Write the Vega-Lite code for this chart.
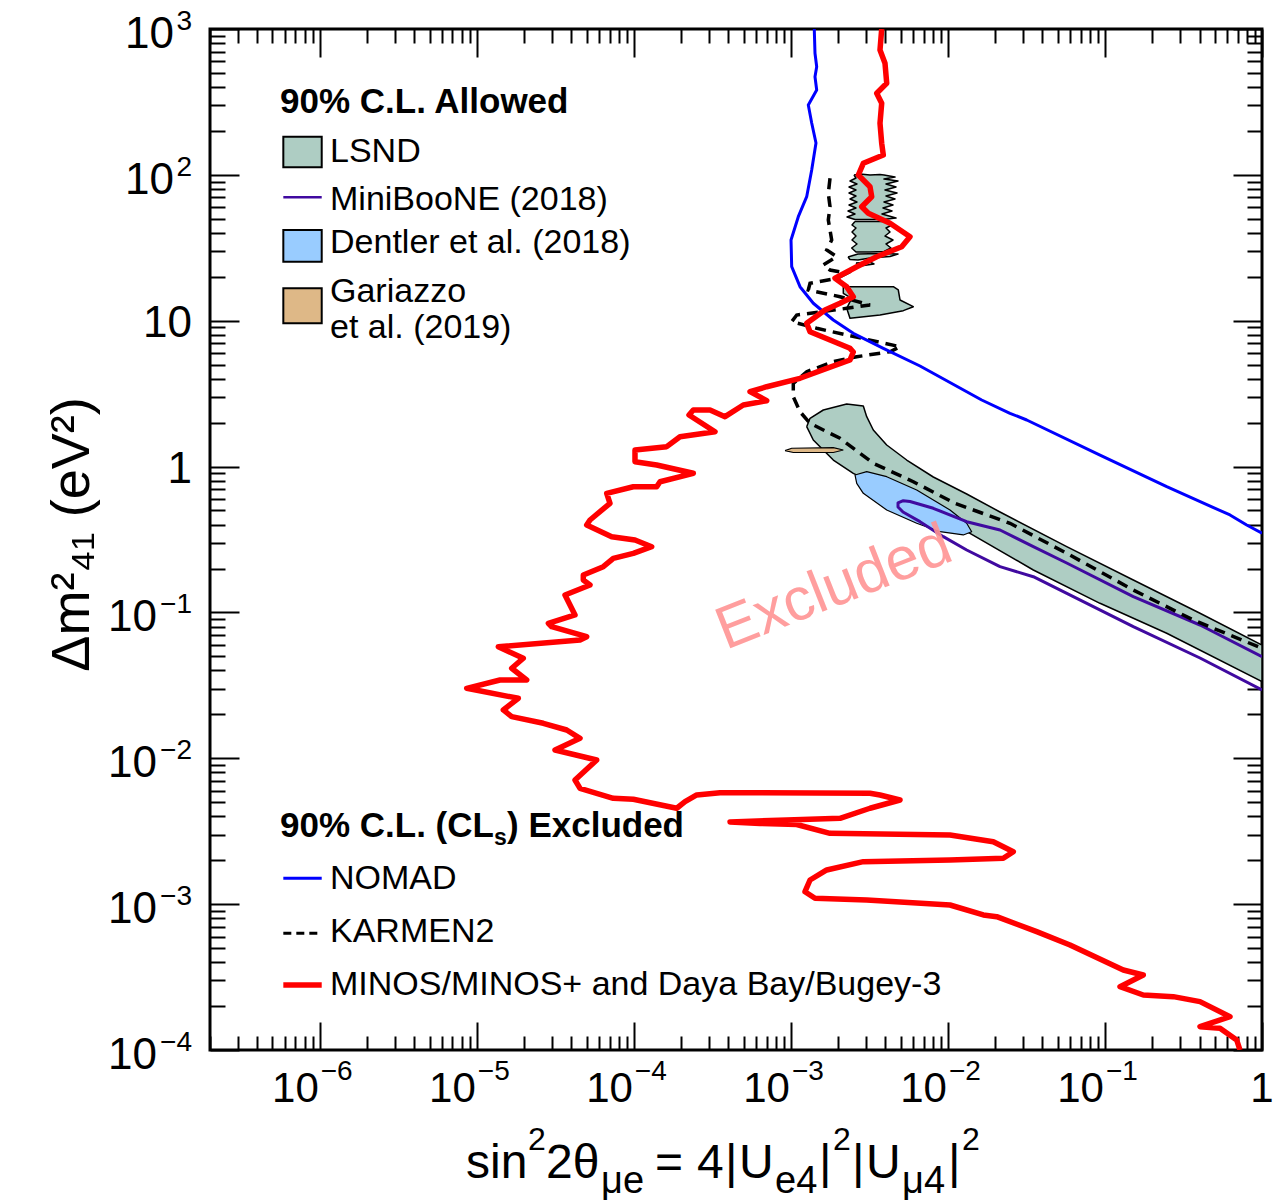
{
"$schema": "https://vega.github.io/schema/vega-lite/v6.json",
"width": 1052, "height": 1021,
"autosize": {"type": "none"},
"padding": {"left": 210, "top": 29, "right": 22, "bottom": 151},
"background": "white",
"config": {"view": {"stroke": "black", "strokeWidth": 3}, "font": "Liberation Sans", "text": {"font": "Liberation Sans", "color": "black"}},
"datasets": {
"nomad": [{"i":0,"x":1.409e-3,"y":1000},{"i":1,"x":1.424e-3,"y":681.4},{"i":2,"x":1.460e-3,"y":551.3},{"i":3,"x":1.424e-3,"y":471.0},{"i":4,"x":1.460e-3,"y":381.8},{"i":5,"x":1.291e-3,"y":301.3},{"i":6,"x":1.357e-3,"y":226.7},{"i":7,"x":1.445e-3,"y":165.4},{"i":8,"x":1.357e-3,"y":108.0},{"i":9,"x":1.261e-3,"y":70.83},{"i":10,"x":1.115e-3,"y":51.67},{"i":11,"x":1.002e-3,"y":35.76},{"i":12,"x":1.012e-3,"y":23.46},{"i":13,"x":1.143e-3,"y":17.11},{"i":14,"x":1.389e-3,"y":13.17},{"i":15,"x":1.863e-3,"y":10.11},{"i":16,"x":2.497e-3,"y":8.197},{"i":17,"x":3.878e-3,"y":6.470},{"i":18,"x":6.641e-3,"y":4.893},{"i":19,"x":1.641e-2,"y":2.860},{"i":20,"x":2.485e-2,"y":2.319},{"i":21,"x":3.175e-2,"y":2.086},{"i":22,"x":9.299e-2,"y":1.200},{"i":23,"x":0.2473,"y":0.7277},{"i":24,"x":0.6254,"y":0.4656},{"i":25,"x":0.7991,"y":0.3978},{"i":26,"x":1,"y":0.3487}],
"red": [{"i":0,"x":3.787e-3,"y":1000},{"i":1,"x":3.694e-3,"y":717.8},{"i":2,"x":3.975e-3,"y":581.9},{"i":3,"x":4.076e-3,"y":424.3},{"i":4,"x":3.520e-3,"y":362.4},{"i":5,"x":3.787e-3,"y":309.4},{"i":6,"x":3.694e-3,"y":225.7},{"i":7,"x":3.787e-3,"y":164.6},{"i":8,"x":3.878e-3,"y":136.8},{"i":9,"x":2.892e-3,"y":120.0},{"i":10,"x":2.688e-3,"y":99.77},{"i":11,"x":3.190e-3,"y":82.96},{"i":12,"x":3.271e-3,"y":70.83},{"i":13,"x":2.825e-3,"y":60.48},{"i":14,"x":3.112e-3,"y":54.50},{"i":15,"x":4.278e-3,"y":46.55},{"i":16,"x":5.735e-3,"y":37.67},{"i":17,"x":5.078e-3,"y":32.18},{"i":18,"x":3.520e-3,"y":27.47},{"i":19,"x":2.626e-3,"y":23.46},{"i":20,"x":1.910e-3,"y":19.54},{"i":21,"x":2.267e-3,"y":17.11},{"i":22,"x":2.497e-3,"y":14.61},{"i":23,"x":2.055e-3,"y":13.17},{"i":24,"x":1.649e-3,"y":11.84},{"i":25,"x":1.261e-3,"y":9.601},{"i":26,"x":1.324e-3,"y":8.407},{"i":27,"x":1.775e-3,"y":7.376},{"i":28,"x":2.379e-3,"y":6.470},{"i":29,"x":2.497e-3,"y":6.104},{"i":30,"x":2.379e-3,"y":5.379},{"i":31,"x":1.691e-3,"y":4.719},{"i":32,"x":1.143e-3,"y":4.029},{"i":33,"x":7.015e-4,"y":3.528},{"i":34,"x":5.491e-4,"y":3.262},{"i":35,"x":7.015e-4,"y":2.829},{"i":36,"x":4.977e-4,"y":2.644},{"i":37,"x":3.806e-4,"y":2.198},{"i":38,"x":3.055e-4,"y":2.443},{"i":39,"x":2.391e-4,"y":2.443},{"i":40,"x":2.245e-4,"y":2.258},{"i":41,"x":3.287e-4,"y":1.734},{"i":42,"x":1.967e-4,"y":1.603},{"i":43,"x":1.619e-4,"y":1.369},{"i":44,"x":1.017e-4,"y":1.299},{"i":45,"x":1.017e-4,"y":1.080},{"i":46,"x":1.398e-4,"y":1.025},{"i":47,"x":2.391e-4,"y":0.8993},{"i":48,"x":1.468e-4,"y":0.7873},{"i":49,"x":1.398e-4,"y":0.7277},{"i":50,"x":9.922e-5,"y":0.7277},{"i":51,"x":6.718e-5,"y":0.6558},{"i":52,"x":7.050e-5,"y":0.5601},{"i":53,"x":5.258e-5,"y":0.4303},{"i":54,"x":5.009e-5,"y":0.3978},{"i":55,"x":7.228e-5,"y":0.3307},{"i":56,"x":1.017e-4,"y":0.3138},{"i":57,"x":1.299e-4,"y":0.2823},{"i":58,"x":9.922e-5,"y":0.2543},{"i":59,"x":7.399e-5,"y":0.2350},{"i":60,"x":6.390e-5,"y":0.2059},{"i":61,"x":4.767e-5,"y":0.1806},{"i":62,"x":4.767e-5,"y":0.1669},{"i":63,"x":5.258e-5,"y":0.1542},{"i":64,"x":3.644e-5,"y":0.1317},{"i":65,"x":4.220e-5,"y":0.09603},{"i":66,"x":2.853e-5,"y":0.08423},{"i":67,"x":2.999e-5,"y":0.07982},{"i":68,"x":5.009e-5,"y":0.06818},{"i":69,"x":4.542e-5,"y":0.06471},{"i":70,"x":1.370e-5,"y":0.05822},{"i":71,"x":1.977e-5,"y":0.04848},{"i":72,"x":1.668e-5,"y":0.04140},{"i":73,"x":2.078e-5,"y":0.03442},{"i":74,"x":1.405e-5,"y":0.03442},{"i":75,"x":8.624e-6,"y":0.03019},{"i":76,"x":1.838e-5,"y":0.02578},{"i":77,"x":1.475e-5,"y":0.02144},{"i":78,"x":1.668e-5,"y":0.01929},{"i":79,"x":2.652e-5,"y":0.01738},{"i":80,"x":3.737e-5,"y":0.01563},{"i":81,"x":4.542e-5,"y":0.01371},{"i":82,"x":3.148e-5,"y":0.01140},{"i":83,"x":5.801e-5,"y":0.009734},{"i":84,"x":4.220e-5,"y":0.007098},{"i":85,"x":4.542e-5,"y":0.006226},{"i":86,"x":7.399e-5,"y":0.005316},{"i":87,"x":9.922e-5,"y":0.005233},{"i":88,"x":1.875e-4,"y":0.004543},{"i":89,"x":2.118e-4,"y":0.005039},{"i":90,"x":2.514e-4,"y":0.005603},{"i":91,"x":3.538e-4,"y":0.005809},{"i":92,"x":3.190e-3,"y":0.005754},{"i":93,"x":3.694e-3,"y":0.005603},{"i":94,"x":4.953e-3,"y":0.005177},{"i":95,"x":3.190e-3,"y":0.004543},{"i":96,"x":2.055e-3,"y":0.003879},{"i":97,"x":9.406e-4,"y":0.003776},{"i":98,"x":4.096e-4,"y":0.003659},{"i":99,"x":6.359e-4,"y":0.003573},{"i":100,"x":1.089e-3,"y":0.003517},{"i":101,"x":1.775e-3,"y":0.003060},{"i":102,"x":1.031e-2,"y":0.002979},{"i":103,"x":1.945e-2,"y":0.002680},{"i":104,"x":2.608e-2,"y":0.002289},{"i":105,"x":2.252e-2,"y":0.002063},{"i":106,"x":1.031e-2,"y":0.002008},{"i":107,"x":2.892e-3,"y":0.001955},{"i":108,"x":1.691e-3,"y":0.001715},{"i":109,"x":1.324e-3,"y":0.001464},{"i":110,"x":1.230e-3,"y":0.001217},{"i":111,"x":1.424e-3,"y":0.001097},{"i":112,"x":3.040e-3,"y":0.001068},{"i":113,"x":1.031e-2,"y":0.0009867},{"i":114,"x":1.680e-2,"y":0.0008427},{"i":115,"x":2.045e-2,"y":0.0008204},{"i":116,"x":3.675e-2,"y":0.0006474},{"i":117,"x":5.990e-2,"y":0.0005248},{"i":118,"x":0.1308,"y":0.0003537},{"i":119,"x":0.1754,"y":0.0003267},{"i":120,"x":0.1247,"y":0.0002717},{"i":121,"x":0.1754,"y":0.0002384},{"i":122,"x":0.2724,"y":0.0002321},{"i":123,"x":0.4029,"y":0.0002145},{"i":124,"x":0.6254,"y":0.0001692},{"i":125,"x":0.4029,"y":0.0001445},{"i":126,"x":0.5402,"y":0.0001409},{"i":127,"x":0.6901,"y":0.0001171},{"i":128,"x":0.7242,"y":0.0001}],
"karmen": [{"i":0,"x":1.775e-3,"y":94.71},{"i":1,"x":1.731e-3,"y":74.75},{"i":2,"x":1.775e-3,"y":60.48},{"i":3,"x":1.731e-3,"y":49.03},{"i":4,"x":1.819e-3,"y":35.76},{"i":5,"x":1.691e-3,"y":30.53},{"i":6,"x":1.958e-3,"y":27.47},{"i":7,"x":1.609e-3,"y":24.10},{"i":8,"x":1.775e-3,"y":22.27},{"i":9,"x":2.267e-3,"y":21.14},{"i":10,"x":1.958e-3,"y":19.54},{"i":11,"x":1.324e-3,"y":18.05},{"i":12,"x":1.291e-3,"y":16.24},{"i":13,"x":2.055e-3,"y":14.61},{"i":14,"x":3.190e-3,"y":12.82},{"i":15,"x":2.267e-3,"y":12.16},{"i":16,"x":1.089e-3,"y":10.94},{"i":17,"x":1.012e-3,"y":9.847},{"i":18,"x":1.460e-3,"y":8.872},{"i":19,"x":2.267e-3,"y":7.981},{"i":20,"x":4.953e-3,"y":6.636},{"i":21,"x":4.278e-3,"y":6.132},{"i":22,"x":2.626e-3,"y":5.665},{"i":23,"x":1.863e-3,"y":5.236},{"i":24,"x":1.261e-3,"y":4.472},{"i":25,"x":1.036e-3,"y":3.723},{"i":26,"x":1.036e-3,"y":3.014},{"i":27,"x":1.143e-3,"y":2.378},{"i":28,"x":1.324e-3,"y":1.980},{"i":29,"x":2.055e-3,"y":1.563},{"i":30,"x":3.348e-3,"y":1.053},{"i":31,"x":6.019e-3,"y":0.7873},{"i":32,"x":1.109e-2,"y":0.5601},{"i":33,"x":2.485e-2,"y":0.4085},{"i":34,"x":5.707e-2,"y":0.2543},{"i":35,"x":0.1515,"y":0.1425},{"i":36,"x":0.3651,"y":0.08875},{"i":37,"x":1,"y":0.05677}],
"mini": [{"i":0,"x":1,"y":0.04973},{"i":1,"x":0.4029,"y":0.08200},{"i":2,"x":0.1515,"y":0.1282},{"i":3,"x":5.707e-2,"y":0.2183},{"i":4,"x":3.498e-2,"y":0.2823},{"i":5,"x":2.146e-2,"y":0.3674},{"i":6,"x":1.317e-2,"y":0.4190},{"i":7,"x":8.070e-3,"y":0.5176},{"i":8,"x":5.735e-3,"y":0.5763},{"i":9,"x":5.199e-3,"y":0.5836},{"i":10,"x":4.810e-3,"y":0.5629},{"i":11,"x":4.810e-3,"y":0.5284},{"i":12,"x":5.176e-3,"y":0.4882},{"i":13,"x":6.641e-3,"y":0.4190},{"i":14,"x":9.346e-3,"y":0.3307},{"i":15,"x":1.317e-2,"y":0.2680},{"i":16,"x":2.146e-2,"y":0.2059},{"i":17,"x":3.498e-2,"y":0.1758},{"i":18,"x":0.1515,"y":0.07982},{"i":19,"x":0.4029,"y":0.04871},{"i":20,"x":1,"y":0.02939}],
"lsnd": [
{"p":0,"i":0,"x":1.261e-3,"y":1.877},{"p":0,"i":1,"x":1.324e-3,"y":2.143},{"p":0,"i":2,"x":1.609e-3,"y":2.443},{"p":0,"i":3,"x":2.267e-3,"y":2.685},{"p":0,"i":4,"x":2.892e-3,"y":2.602},{"p":0,"i":5,"x":3.040e-3,"y":2.198},{"p":0,"i":6,"x":3.348e-3,"y":1.781},{"p":0,"i":7,"x":4.076e-3,"y":1.406},{"p":0,"i":8,"x":5.464e-3,"y":1.109},{"p":0,"i":9,"x":8.070e-3,"y":0.8483},{"p":0,"i":10,"x":1.317e-2,"y":0.6486},{"p":0,"i":11,"x":2.146e-2,"y":0.4882},{"p":0,"i":12,"x":5.707e-2,"y":0.2823},{"p":0,"i":13,"x":0.1515,"y":0.1669},{"p":0,"i":14,"x":0.4029,"y":0.09865},{"p":0,"i":15,"x":1,"y":0.05981},{"p":0,"i":16,"x":1,"y":0.03351},{"p":0,"i":17,"x":0.2473,"y":0.07194},{"p":0,"i":18,"x":9.299e-2,"y":0.1155},{"p":0,"i":19,"x":3.498e-2,"y":0.1954},{"p":0,"i":20,"x":1.382e-2,"y":0.3487},{"p":0,"i":21,"x":5.735e-3,"y":0.5718},{"p":0,"i":22,"x":2.497e-3,"y":0.8993},{"p":0,"i":23,"x":1.863e-3,"y":1.109},{"p":0,"i":24,"x":1.389e-3,"y":1.521},{"p":0,"i":25,"x":1.261e-3,"y":1.877},
{"p":1,"i":0,"x":2.522e-3,"y":99.77},{"p":1,"i":1,"x":2.755e-3,"y":101.4},{"p":1,"i":2,"x":3.190e-3,"y":99.77},{"p":1,"i":3,"x":3.694e-3,"y":100.6},{"p":1,"i":4,"x":3.917e-3,"y":99.77},{"p":1,"i":5,"x":4.603e-3,"y":96.67},{"p":1,"i":6,"x":3.917e-3,"y":93.67},{"p":1,"i":7,"x":4.810e-3,"y":90.77},{"p":1,"i":8,"x":4.034e-3,"y":86.56},{"p":1,"i":9,"x":4.671e-3,"y":82.57},{"p":1,"i":10,"x":3.975e-3,"y":78.74},{"p":1,"i":11,"x":4.741e-3,"y":75.09},{"p":1,"i":12,"x":4.034e-3,"y":71.63},{"p":1,"i":13,"x":4.603e-3,"y":68.31},{"p":1,"i":14,"x":3.917e-3,"y":65.15},{"p":1,"i":15,"x":4.470e-3,"y":62.14},{"p":1,"i":16,"x":3.860e-3,"y":59.26},{"p":1,"i":17,"x":4.405e-3,"y":56.52},{"p":1,"i":18,"x":3.803e-3,"y":53.90},{"p":1,"i":19,"x":4.671e-3,"y":50.60},{"p":1,"i":20,"x":3.860e-3,"y":49.43},{"p":1,"i":21,"x":3.190e-3,"y":49.43},{"p":1,"i":22,"x":2.560e-3,"y":49.43},{"p":1,"i":23,"x":2.277e-3,"y":51.41},{"p":1,"i":24,"x":2.560e-3,"y":53.90},{"p":1,"i":25,"x":2.311e-3,"y":56.52},{"p":1,"i":26,"x":2.598e-3,"y":59.26},{"p":1,"i":27,"x":2.345e-3,"y":62.14},{"p":1,"i":28,"x":2.636e-3,"y":65.15},{"p":1,"i":29,"x":2.379e-3,"y":68.31},{"p":1,"i":30,"x":2.598e-3,"y":71.63},{"p":1,"i":31,"x":2.345e-3,"y":75.09},{"p":1,"i":32,"x":2.598e-3,"y":78.74},{"p":1,"i":33,"x":2.345e-3,"y":82.57},{"p":1,"i":34,"x":2.636e-3,"y":86.56},{"p":1,"i":35,"x":2.379e-3,"y":90.77},{"p":1,"i":36,"x":2.598e-3,"y":95.17},{"p":1,"i":37,"x":2.522e-3,"y":99.77},
{"p":2,"i":0,"x":2.560e-3,"y":47.88},{"p":2,"i":1,"x":3.975e-3,"y":47.88},{"p":2,"i":2,"x":4.405e-3,"y":45.32},{"p":2,"i":3,"x":4.034e-3,"y":43.22},{"p":2,"i":4,"x":4.278e-3,"y":40.58},{"p":2,"i":5,"x":3.975e-3,"y":38.10},{"p":2,"i":6,"x":4.470e-3,"y":35.76},{"p":2,"i":7,"x":4.034e-3,"y":33.57},{"p":2,"i":8,"x":4.340e-3,"y":31.52},{"p":2,"i":9,"x":3.917e-3,"y":29.83},{"p":2,"i":10,"x":3.190e-3,"y":29.59},{"p":2,"i":11,"x":2.598e-3,"y":29.59},{"p":2,"i":12,"x":2.439e-3,"y":31.52},{"p":2,"i":13,"x":2.636e-3,"y":33.57},{"p":2,"i":14,"x":2.450e-3,"y":35.76},{"p":2,"i":15,"x":2.598e-3,"y":38.10},{"p":2,"i":16,"x":2.450e-3,"y":40.58},{"p":2,"i":17,"x":2.598e-3,"y":43.22},{"p":2,"i":18,"x":2.450e-3,"y":45.32},{"p":2,"i":19,"x":2.560e-3,"y":47.88},
{"p":3,"i":0,"x":2.311e-3,"y":27.35},{"p":3,"i":1,"x":2.675e-3,"y":28.67},{"p":3,"i":2,"x":3.694e-3,"y":28.89},{"p":3,"i":3,"x":4.810e-3,"y":28.67},{"p":3,"i":4,"x":4.278e-3,"y":27.56},{"p":3,"i":5,"x":3.190e-3,"y":26.92},{"p":3,"i":6,"x":2.675e-3,"y":26.08},{"p":3,"i":7,"x":2.379e-3,"y":26.29},{"p":3,"i":8,"x":2.311e-3,"y":27.35},
{"p":4,"i":0,"x":2.598e-3,"y":24.87},{"p":4,"i":1,"x":3.190e-3,"y":25.27},{"p":4,"i":2,"x":3.383e-3,"y":24.48},{"p":4,"i":3,"x":2.755e-3,"y":23.73},{"p":4,"i":4,"x":2.598e-3,"y":24.87},
{"p":5,"i":0,"x":2.157e-3,"y":17.11},{"p":5,"i":1,"x":4.49e-3,"y":17.11},{"p":5,"i":2,"x":4.83e-3,"y":16.24},{"p":5,"i":3,"x":4.953e-3,"y":13.87},{"p":5,"i":4,"x":6.019e-3,"y":12.48},{"p":5,"i":5,"x":5.199e-3,"y":11.72},{"p":5,"i":6,"x":3.694e-3,"y":10.94},{"p":5,"i":7,"x":2.379e-3,"y":10.39},{"p":5,"i":8,"x":2.267e-3,"y":12.16},{"p":5,"i":9,"x":2.439e-3,"y":14.24},{"p":5,"i":10,"x":2.157e-3,"y":15.42},{"p":5,"i":11,"x":2.157e-3,"y":17.11}],
"dentler": [{"i":0,"x":2.560e-3,"y":0.8756},{"i":1,"x":3.040e-3,"y":0.9224},{"i":2,"x":4.076e-3,"y":0.8523},{"i":3,"x":6.327e-3,"y":0.6909},{"i":4,"x":1.031e-2,"y":0.5039},{"i":5,"x":1.317e-2,"y":0.4085},{"i":6,"x":1.417e-2,"y":0.3577},{"i":7,"x":1.253e-2,"y":0.3397},{"i":8,"x":8.905e-3,"y":0.3577},{"i":9,"x":6.327e-3,"y":0.4085},{"i":10,"x":4.076e-3,"y":0.5039},{"i":11,"x":2.892e-3,"y":0.6558},{"i":12,"x":2.626e-3,"y":0.7678},{"i":13,"x":2.560e-3,"y":0.8756}],
"gariazzo": [{"i":0,"x":9.176e-4,"y":1.285},{"i":1,"x":1.012e-3,"y":1.335},{"i":2,"x":1.863e-3,"y":1.347},{"i":3,"x":2.157e-3,"y":1.299},{"i":4,"x":1.863e-3,"y":1.249},{"i":5,"x":1.036e-3,"y":1.249},{"i":6,"x":9.176e-4,"y":1.285}],
"legRects": [{"k":"LSND","x":5.860e-7,"x2":1.029e-6,"y":182.6,"y2":112.7},{"k":"Dentler","x":5.860e-7,"x2":1.029e-6,"y":41.88,"y2":25.39},{"k":"Gariazzo","x":5.860e-7,"x2":1.029e-6,"y":16.69,"y2":9.601}],
"legText": [{"t":"LSND","x":1.162e-6,"y":123.1},{"t":"MiniBooNE (2018)","x":1.162e-6,"y":57.42},{"t":"Dentler et al. (2018)","x":1.162e-6,"y":28.99},{"t":"Gariazzo","x":1.162e-6,"y":13.50},{"t":"et al. (2019)","x":1.162e-6,"y":7.576},{"t":"NOMAD","x":1.162e-6,"y":1.264e-3},{"t":"KARMEN2","x":1.162e-6,"y":5.528e-4},{"t":"MINOS/MINOS+ and Daya Bay/Bugey-3","x":1.162e-6,"y":2.384e-4}],
"legHead": [{"t":"90% C.L. Allowed","x":5.581e-7,"y":264.2},{"t":"90% C.L. (CL","x":5.581e-7,"y":2.901e-3},{"t":") Excluded","x":1.557e-5,"y":2.901e-3}],
"legSub": [{"t":"s","x":1.287e-5,"y":2.543e-3}],
"xlab": [{"x":1e-6,"y":0.0001,"e":"−6"},{"x":1e-5,"y":0.0001,"e":"−5"},{"x":1e-4,"y":0.0001,"e":"−4"},{"x":0.001,"y":0.0001,"e":"−3"},{"x":0.01,"y":0.0001,"e":"−2"},{"x":0.1,"y":0.0001,"e":"−1"}],
"xlabOne": [{"x":1,"y":0.0001,"t":"1"}],
"ylabP": [{"x":2e-7,"y":1000,"e":"3"},{"x":2e-7,"y":100,"e":"2"}],
"ylabN": [{"x":2e-7,"y":0.1,"e":"−1"},{"x":2e-7,"y":0.01,"e":"−2"},{"x":2e-7,"y":0.001,"e":"−3"},{"x":2e-7,"y":0.0001,"e":"−4"}],
"ylabPlain": [{"x":2e-7,"y":10,"t":"10"},{"x":2e-7,"y":1,"t":"1"}],
"xtMain": [{"x":8.535e-6,"y":0.0001,"t":"sin"},{"x":2.758e-5,"y":0.0001,"t":"2θ"},{"x":1.364e-4,"y":0.0001,"t":"="},{"x":2.525e-4,"y":0.0001,"t":"4"},{"x":3.806e-4,"y":0.0001,"t":"|"},{"x":4.673e-4,"y":0.0001,"t":"U"},{"x":1.511e-3,"y":0.0001,"t":"|"},{"x":2.450e-3,"y":0.0001,"t":"|"},{"x":3.009e-3,"y":0.0001,"t":"U"},{"x":1.001e-2,"y":0.0001,"t":"|"}],
"xtSup": [{"x":2.118e-5,"y":0.0001,"t":"2"},{"x":1.855e-3,"y":0.0001,"t":"2"},{"x":1.229e-2,"y":0.0001,"t":"2"}],
"xtSub": [{"x":6.179e-5,"y":0.0001,"t":"μe"},{"x":7.922e-4,"y":0.0001,"t":"e4"},{"x":5.100e-3,"y":0.0001,"t":"μ4"}],
"excl": [{"t":"Excluded","x":1.882e-3,"y":0.1471}]
},
"encoding": {
"x": {"field": "x", "type": "quantitative", "scale": {"type": "log", "domain": [2e-7, 1], "nice": false}, "axis": null},
"y": {"field": "y", "type": "quantitative", "scale": {"type": "log", "domain": [0.0001, 1000], "nice": false}, "axis": null}
},
"resolve": {"axis": {"x": "independent", "y": "independent"}},
"layer": [
{"data": {"name": "lsnd"}, "mark": {"type": "line", "fill": "#aecdc3", "stroke": "black", "strokeWidth": 1.5, "strokeJoin": "round", "clip": true}, "encoding": {"detail": {"field": "p"}, "order": {"field": "i"}}},
{"data": {"name": "dentler"}, "mark": {"type": "line", "fill": "#99ccff", "stroke": "black", "strokeWidth": 1.2, "strokeJoin": "round", "clip": true}, "encoding": {"order": {"field": "i"}}},
{"data": {"name": "gariazzo"}, "mark": {"type": "line", "fill": "#deb887", "stroke": "black", "strokeWidth": 1.2, "clip": true}, "encoding": {"order": {"field": "i"}}},
{"data": {"name": "mini"}, "mark": {"type": "line", "stroke": "#400aa0", "strokeWidth": 3, "strokeJoin": "round", "clip": true}, "encoding": {"order": {"field": "i"}}},
{"data": {"name": "karmen"}, "mark": {"type": "line", "stroke": "black", "strokeWidth": 3.5, "strokeDash": [11, 7], "clip": true}, "encoding": {"order": {"field": "i"}}},
{"data": {"name": "nomad"}, "mark": {"type": "line", "stroke": "#0000ff", "strokeWidth": 3, "strokeJoin": "round", "clip": true},
 "encoding": {
  "x": {"field": "x", "type": "quantitative", "scale": {"type": "log", "domain": [2e-7, 1], "nice": false},
        "axis": {"orient": "bottom", "values": [2e-7,3e-7,4e-7,5e-7,6e-7,7e-7,8e-7,9e-7,1e-6,2e-6,3e-6,4e-6,5e-6,6e-6,7e-6,8e-6,9e-6,1e-5,2e-5,3e-5,4e-5,5e-5,6e-5,7e-5,8e-5,9e-5,1e-4,2e-4,3e-4,4e-4,5e-4,6e-4,7e-4,8e-4,9e-4,0.001,0.002,0.003,0.004,0.005,0.006,0.007,0.008,0.009,0.01,0.02,0.03,0.04,0.05,0.06,0.07,0.08,0.09,0.1,0.2,0.3,0.4,0.5,0.6,0.7,0.8,0.9,1],
                 "labels": false, "domain": false, "grid": false, "ticks": true, "tickColor": "black", "tickWidth": 2,
                 "tickSize": {"condition": {"test": "abs(log(datum.value)/LN10 - round(log(datum.value)/LN10)) < 0.01", "value": -28}, "value": -14}, "title": null}},
  "y": {"field": "y", "type": "quantitative", "scale": {"type": "log", "domain": [0.0001, 1000], "nice": false},
        "axis": {"orient": "left", "values": [0.0001,0.0002,0.0003,0.0004,0.0005,0.0006,0.0007,0.0008,0.0009,0.001,0.002,0.003,0.004,0.005,0.006,0.007,0.008,0.009,0.01,0.02,0.03,0.04,0.05,0.06,0.07,0.08,0.09,0.1,0.2,0.3,0.4,0.5,0.6,0.7,0.8,0.9,1,2,3,4,5,6,7,8,9,10,20,30,40,50,60,70,80,90,100,200,300,400,500,600,700,800,900,1000],
                 "labels": false, "domain": false, "grid": false, "ticks": true, "tickColor": "black", "tickWidth": 2,
                 "tickSize": {"condition": {"test": "abs(log(datum.value)/LN10 - round(log(datum.value)/LN10)) < 0.01", "value": -29}, "value": -15},
                 "title": "Δm²₄₁ (eV²)", "titleFont": "Liberation Sans", "titleFontSize": 54, "titleFontWeight": "normal", "titleColor": "black",
                 "titleAngle": 270, "titleX": -122, "titleY": 505, "titleAlign": "center", "titleBaseline": "alphabetic"}},
  "order": {"field": "i"}}},
{"data": {"name": "red"}, "mark": {"type": "line", "stroke": "#ff0000", "strokeWidth": 5.5, "strokeJoin": "round", "clip": true},
 "encoding": {
  "x": {"field": "x", "type": "quantitative", "scale": {"type": "log", "domain": [2e-7, 1], "nice": false},
        "axis": {"orient": "top", "values": [2e-7,3e-7,4e-7,5e-7,6e-7,7e-7,8e-7,9e-7,1e-6,2e-6,3e-6,4e-6,5e-6,6e-6,7e-6,8e-6,9e-6,1e-5,2e-5,3e-5,4e-5,5e-5,6e-5,7e-5,8e-5,9e-5,1e-4,2e-4,3e-4,4e-4,5e-4,6e-4,7e-4,8e-4,9e-4,0.001,0.002,0.003,0.004,0.005,0.006,0.007,0.008,0.009,0.01,0.02,0.03,0.04,0.05,0.06,0.07,0.08,0.09,0.1,0.2,0.3,0.4,0.5,0.6,0.7,0.8,0.9,1],
                 "labels": false, "domain": false, "grid": false, "ticks": true, "tickColor": "black", "tickWidth": 2,
                 "tickSize": {"condition": {"test": "abs(log(datum.value)/LN10 - round(log(datum.value)/LN10)) < 0.01", "value": -28}, "value": -14}, "title": null}},
  "y": {"field": "y", "type": "quantitative", "scale": {"type": "log", "domain": [0.0001, 1000], "nice": false},
        "axis": {"orient": "right", "values": [0.0001,0.0002,0.0003,0.0004,0.0005,0.0006,0.0007,0.0008,0.0009,0.001,0.002,0.003,0.004,0.005,0.006,0.007,0.008,0.009,0.01,0.02,0.03,0.04,0.05,0.06,0.07,0.08,0.09,0.1,0.2,0.3,0.4,0.5,0.6,0.7,0.8,0.9,1,2,3,4,5,6,7,8,9,10,20,30,40,50,60,70,80,90,100,200,300,400,500,600,700,800,900,1000],
                 "labels": false, "domain": false, "grid": false, "ticks": true, "tickColor": "black", "tickWidth": 2,
                 "tickSize": {"condition": {"test": "abs(log(datum.value)/LN10 - round(log(datum.value)/LN10)) < 0.01", "value": -29}, "value": -15}, "title": null}},
  "order": {"field": "i"}}},
{"data": {"name": "excl"}, "mark": {"type": "text", "angle": -21.5, "fontSize": 60, "color": "#ff9494", "opacity": 0.9, "align": "center", "baseline": "middle"}, "encoding": {"text": {"field": "t"}}},
{"data": {"name": "legRects"}, "mark": {"type": "rect", "stroke": "black", "strokeWidth": 2}, "encoding": {"x2": {"field": "x2"}, "y2": {"field": "y2"}, "fill": {"field": "k", "type": "nominal", "scale": {"domain": ["LSND", "Dentler", "Gariazzo"], "range": ["#aecdc3", "#99ccff", "#deb887"]}, "legend": null}}},
{"data": {"values": [{"x": 5.860e-7, "x2": 1.029e-6, "y": 70.19}]}, "mark": {"type": "rule", "stroke": "#400aa0", "strokeWidth": 2.5}, "encoding": {"x2": {"field": "x2"}}},
{"data": {"values": [{"x": 5.860e-7, "x2": 1.029e-6, "y": 1.504e-3}]}, "mark": {"type": "rule", "stroke": "#0000ff", "strokeWidth": 3}, "encoding": {"x2": {"field": "x2"}}},
{"data": {"values": [{"x": 5.860e-7, "x2": 1.029e-6, "y": 6.314e-4}]}, "mark": {"type": "rule", "stroke": "black", "strokeWidth": 3, "strokeDash": [8, 5]}, "encoding": {"x2": {"field": "x2"}}},
{"data": {"values": [{"x": 5.860e-7, "x2": 1.029e-6, "y": 2.791e-4}]}, "mark": {"type": "rule", "stroke": "#ff0000", "strokeWidth": 5.5}, "encoding": {"x2": {"field": "x2"}}},
{"data": {"name": "legText"}, "mark": {"type": "text", "align": "left", "baseline": "alphabetic", "fontSize": 34}, "encoding": {"text": {"field": "t"}}},
{"data": {"name": "legHead"}, "mark": {"type": "text", "align": "left", "baseline": "alphabetic", "fontSize": 35, "fontWeight": "bold"}, "encoding": {"text": {"field": "t"}}},
{"data": {"name": "legSub"}, "mark": {"type": "text", "align": "left", "baseline": "alphabetic", "fontSize": 23, "fontWeight": "bold"}, "encoding": {"text": {"field": "t"}}},
{"data": {"name": "xlab"}, "mark": {"type": "text", "text": "10", "align": "right", "baseline": "alphabetic", "fontSize": 42, "dx": -1, "dy": 52, "clip": false}, "encoding": {}},
{"data": {"name": "xlab"}, "mark": {"type": "text", "align": "left", "baseline": "alphabetic", "fontSize": 28, "dx": 1, "dy": 30, "clip": false}, "encoding": {"text": {"field": "e"}}},
{"data": {"name": "xlabOne"}, "mark": {"type": "text", "align": "center", "baseline": "alphabetic", "fontSize": 42, "dy": 52, "clip": false}, "encoding": {"text": {"field": "t"}}},
{"data": {"name": "ylabP"}, "mark": {"type": "text", "text": "10", "align": "right", "baseline": "alphabetic", "fontSize": 44, "dx": -36, "dy": 19, "clip": false}, "encoding": {}},
{"data": {"name": "ylabP"}, "mark": {"type": "text", "align": "right", "baseline": "alphabetic", "fontSize": 28, "dx": -18, "dy": 1, "clip": false}, "encoding": {"text": {"field": "e"}}},
{"data": {"name": "ylabN"}, "mark": {"type": "text", "text": "10", "align": "right", "baseline": "alphabetic", "fontSize": 44, "dx": -53, "dy": 19, "clip": false}, "encoding": {}},
{"data": {"name": "ylabN"}, "mark": {"type": "text", "align": "right", "baseline": "alphabetic", "fontSize": 28, "dx": -18, "dy": 1, "clip": false}, "encoding": {"text": {"field": "e"}}},
{"data": {"name": "ylabPlain"}, "mark": {"type": "text", "align": "right", "baseline": "alphabetic", "fontSize": 44, "dx": -18, "dy": 16, "clip": false}, "encoding": {"text": {"field": "t"}}},
{"data": {"name": "xtMain"}, "mark": {"type": "text", "align": "left", "baseline": "alphabetic", "fontSize": 48, "dy": 128, "clip": false}, "encoding": {"text": {"field": "t"}}},
{"data": {"name": "xtSup"}, "mark": {"type": "text", "align": "left", "baseline": "alphabetic", "fontSize": 32, "dy": 100, "clip": false}, "encoding": {"text": {"field": "t"}}},
{"data": {"name": "xtSub"}, "mark": {"type": "text", "align": "left", "baseline": "alphabetic", "fontSize": 38, "dy": 143, "clip": false}, "encoding": {"text": {"field": "t"}}}
]
}
